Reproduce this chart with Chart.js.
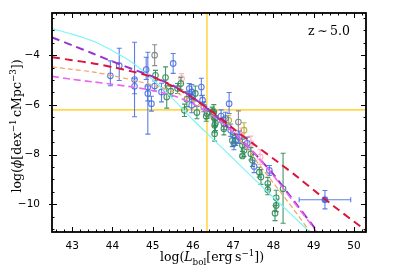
<!DOCTYPE html>
<html>
<head>
<meta charset="utf-8">
<script src="https://cdn.jsdelivr.net/npm/chart.js@4"></script>
<style>
  html, body { margin: 0; padding: 0; background: #fff; }
  #wrap { width: 399px; height: 266px; }
</style>
</head>
<body>
<div id="wrap"><canvas id="lfChart" width="399" height="266"></canvas></div>
<script>
const ctxLf = document.getElementById('lfChart');

const xRange = [42.5, 50.3];
const yRange = [-11.12, -2.3];
const xTicks = [43, 44, 45, 46, 47, 48, 49, 50];
const yTicks = [-10, -8, -6, -4];
const refX = 46.35;
const refY = -6.2;

// model curves
const cyanX = [42.5, 43, 43.5, 44, 44.5, 45, 45.5, 46, 46.5, 47, 47.5, 48, 48.5, 48.9];
const cyanY = [-2.93, -3.15, -3.42, -3.82, -4.3, -4.98, -5.75, -6.6, -7.38, -8.16, -8.95, -9.73, -10.5, -11.12];
const purpleX = [42.5, 43, 43.5, 44, 44.5, 45, 45.5, 46, 46.5, 47, 47.5, 48, 48.5, 49, 49.1];
const purpleY = [-3.28, -3.6, -3.92, -4.25, -4.56, -4.86, -5.22, -5.7, -6.35, -7.1, -7.9, -8.8, -9.85, -10.9, -11.12];
const redX = [42.5, 43, 43.5, 44, 44.5, 45, 45.5, 46, 46.5, 47, 47.5, 48, 48.5, 49, 49.5, 50, 50.3];
const redY = [-4.08, -4.2, -4.32, -4.48, -4.66, -4.88, -5.25, -5.72, -6.3, -6.95, -7.57, -8.17, -8.78, -9.43, -10.08, -10.7, -11.06];
const orangeX = [42.5, 43, 43.5, 44, 44.5, 45, 45.5, 46, 46.5, 47, 47.5, 48, 48.5, 48.9];
const orangeY = [-4.47, -4.57, -4.67, -4.82, -5.0, -5.2, -5.45, -5.85, -6.35, -7.1, -8.1, -9.15, -10.2, -11.1];
const violetX = [42.5, 43, 43.5, 44, 44.5, 45, 45.5, 46, 46.5, 47, 47.5, 48, 48.5, 49, 49.07];
const violetY = [-4.85, -4.97, -5.07, -5.17, -5.28, -5.42, -5.62, -5.95, -6.45, -7.1, -7.9, -8.85, -9.9, -10.95, -11.12];

// observed points
const blueX = [43.95, 44.17, 44.55, 44.55, 44.84, 44.88, 44.88, 44.97, 45.05, 45.22, 45.51, 45.91, 45.97, 45.97, 45.97, 46.21, 46.24, 46.27, 46.7, 46.81, 46.9, 46.94, 47.02, 47.15, 47.35, 47.52, 47.9];
const blueY = [-4.83, -4.42, -4.98, -5.25, -4.58, -5.28, -5.54, -5.95, -5.24, -5.48, -4.33, -5.34, -5.48, -5.68, -6.02, -5.28, -5.81, -6.08, -6.45, -6.55, -5.95, -7.02, -7.56, -7.3, -7.55, -8.48, -8.64];
const blueLo = [0.4, 0.6, 1.5, 0.3, 0.4, 1.9, 0.3, 0.3, 0.2, 0.4, 0.4, 0.2, 0.3, 0.2, 0.3, 0.35, 0.2, 0.2, 0.25, 0.25, 0.4, 0.25, 0.25, 0.25, 0.25, 0.25, 0.2];
const blueHi = [0.6, 0.7, 1.5, 0.3, 0.5, 1.4, 0.3, 0.3, 0.2, 0.35, 0.4, 0.2, 0.3, 0.2, 0.3, 0.35, 0.2, 0.2, 0.25, 0.25, 0.45, 0.25, 0.25, 0.25, 0.25, 0.25, 0.2];
const brightX = [49.28];
const brightY = [-9.82];
const brightErrY = [0.37];
const brightErrX = [0.64];

const greenX = [45.07, 45.32, 45.35, 45.45, 45.62, 45.7, 45.85, 45.79, 46.06, 46.1, 46.35, 46.33, 46.48, 46.52, 46.54, 46.54, 46.56, 46.54, 46.77, 46.77, 46.98, 47.06, 47.23, 47.27, 47.23, 47.44, 47.48, 47.65, 47.69, 47.86, 47.86, 48.07, 48.07, 48.04, 48.24];
const greenY = [-4.81, -4.9, -5.68, -5.45, -5.34, -5.14, -5.77, -6.22, -5.54, -6.31, -6.35, -6.46, -6.29, -6.29, -6.55, -6.82, -6.73, -7.16, -6.75, -6.96, -7.43, -7.43, -7.63, -7.83, -8.06, -7.97, -8.23, -8.71, -8.9, -9.17, -9.42, -9.74, -10.05, -10.36, -9.38];
const greenLo = [0.2, 0.45, 0.45, 0.2, 0.2, 0.25, 0.3, 0.25, 0.3, 0.25, 0.2, 0.2, 0.2, 0.3, 0.3, 0.3, 0.3, 0.3, 0.25, 0.25, 0.25, 0.2, 0.25, 0.25, 0.05, 0.25, 0.25, 0.2, 0.3, 0.25, 0.2, 0.3, 0.25, 0.3, 1.39];
const greenHi = [0.2, 0.43, 0.45, 0.2, 0.2, 0.25, 0.3, 0.25, 0.3, 0.25, 0.2, 0.2, 0.2, 0.3, 0.3, 0.3, 0.3, 0.3, 0.25, 0.25, 0.25, 0.2, 0.25, 0.25, 0.05, 0.25, 0.25, 0.2, 0.3, 0.25, 0.2, 0.3, 0.25, 0.3, 1.43];

const grayX = [45.05, 47.13];
const grayY = [-4.0, -6.69];
const grayErr = [0.42, 0.45];
const pinkX = [45.72, 47.19, 47.44, 47.67];
const pinkY = [-4.94, -7.23, -7.56, -8.1];
const pinkErr = [0.2, 0.3, 0.3, 0.3];
const oliveX = [46.5, 46.89, 47.27];
const oliveY = [-6.35, -6.62, -7.02];
const oliveErr = [0.2, 0.2, 0.3];

function pts(xs, ys) {
  return xs.map((x, i) => ({ x: x, y: ys[i] }));
}

function modelLine(xs, ys, color, width, dash) {
  return {
    type: 'line',
    data: pts(xs, ys),
    borderColor: color,
    borderWidth: width,
    borderDash: dash,
    pointRadius: 0,
    fill: false,
    tension: 0.2
  };
}

function obsSet(xs, ys, lo, hi, color, fillColor) {
  return {
    type: 'scatter',
    data: pts(xs, ys),
    borderColor: color,
    backgroundColor: fillColor || 'rgba(0,0,0,0)',
    pointRadius: 2.8,
    pointBorderWidth: 1.1,
    errLo: lo,
    errHi: hi
  };
}

// error bars under each scatter set
const errorBars = {
  id: 'errorBars',
  beforeDatasetDraw(chart, args) {
    const ds = chart.data.datasets[args.index];
    if (!ds.errLo) return;
    const sx = chart.scales.x, sy = chart.scales.y;
    const c = chart.ctx;
    c.save();
    c.strokeStyle = ds.borderColor;
    c.lineWidth = 1.1;
    ds.data.forEach((p, i) => {
      const px = sx.getPixelForValue(p.x);
      const top = sy.getPixelForValue(p.y + ds.errHi[i]);
      const bot = sy.getPixelForValue(p.y - ds.errLo[i]);
      c.beginPath();
      c.moveTo(px, top); c.lineTo(px, bot);
      c.moveTo(px - 2.5, top); c.lineTo(px + 2.5, top);
      c.moveTo(px - 2.5, bot); c.lineTo(px + 2.5, bot);
      if (ds.errX) {
        const py = sy.getPixelForValue(p.y);
        const l = sx.getPixelForValue(p.x - ds.errX[i]);
        const r = sx.getPixelForValue(p.x + ds.errX[i]);
        c.moveTo(l, py); c.lineTo(r, py);
        c.moveTo(l, py - 2.5); c.lineTo(l, py + 2.5);
        c.moveTo(r, py - 2.5); c.lineTo(r, py + 2.5);
      }
      c.stroke();
    });
    c.restore();
  }
};

// frame with inward ticks on all sides
const frameTicks = {
  id: 'frameTicks',
  afterDraw(chart) {
    const a = chart.chartArea;
    const sx = chart.scales.x, sy = chart.scales.y;
    const c = chart.ctx;
    c.save();
    c.strokeStyle = '#000';
    c.lineWidth = 1;
    c.beginPath();
    for (let v = 42.6; v < xRange[1]; v += 0.2) {
      const px = Math.round(sx.getPixelForValue(v)) + 0.5;
      const major = Math.abs(v - Math.round(v)) < 0.01;
      const len = major ? 5 : 2.5;
      c.moveTo(px, a.bottom); c.lineTo(px, a.bottom - len);
      c.moveTo(px, a.top); c.lineTo(px, a.top + len);
    }
    for (let v = -11; v < yRange[1]; v += 0.5) {
      const py = Math.round(sy.getPixelForValue(v)) + 0.5;
      const major = Math.abs(v / 2 - Math.round(v / 2)) < 0.01;
      const len = major ? 5 : 2.5;
      c.moveTo(a.left, py); c.lineTo(a.left + len, py);
      c.moveTo(a.right, py); c.lineTo(a.right - len, py);
      if (major) { c.moveTo(a.left, py); c.lineTo(a.left - 3, py); }
    }
    c.stroke();
    c.lineWidth = 1.8;
    c.strokeRect(a.left, a.top, a.right - a.left, a.bottom - a.top);
    c.restore();
  }
};

function drawRich(c, parts, x, y, size) {
  const fam = '"DejaVu Serif", serif';
  let total = 0;
  parts.forEach(p => {
    const s = p.sub || p.sup ? size * 0.7 : size;
    c.font = (p.it ? 'italic ' : '') + s + 'px ' + fam;
    p.w = c.measureText(p.t).width;
    total += p.w;
  });
  let cx = x - total / 2;
  parts.forEach(p => {
    const s = p.sub || p.sup ? size * 0.7 : size;
    c.font = (p.it ? 'italic ' : '') + s + 'px ' + fam;
    const dy = p.sub ? size * 0.3 : p.sup ? -size * 0.4 : 0;
    c.fillText(p.t, cx, y + dy);
    cx += p.w;
  });
}

const axisTitles = {
  id: 'axisTitles',
  afterDraw(chart) {
    const c = chart.ctx;
    c.save();
    c.fillStyle = '#000';
    c.textBaseline = 'alphabetic';
    c.textAlign = 'left';
    drawRich(c, [
      { t: 'log(' }, { t: 'L', it: true }, { t: 'bol', sub: true },
      { t: '[erg\u2009s' }, { t: '\u22121', sup: true }, { t: '])' }
    ], 212, 261, 12.5);
    c.translate(21, 126);
    c.rotate(-Math.PI / 2);
    drawRich(c, [
      { t: 'log(' }, { t: '\u03d5', it: true }, { t: '[dex' }, { t: '\u22121', sup: true },
      { t: '\u2009cMpc' }, { t: '\u22123', sup: true }, { t: '])' }
    ], 0, 0, 12.5);
    c.restore();
    c.save();
    c.fillStyle = '#000';
    c.font = '12.5px "DejaVu Serif", serif';
    c.textAlign = 'right';
    c.fillText('z\u2009\u223c\u20095.0', 350, 35);
    c.restore();
  }
};

const lfChart = new Chart(ctxLf, {
  data: {
    datasets: [
      modelLine(redX, redY, '#dc143c', 2, [8, 5]),
      modelLine(violetX, violetY, '#ee66ee', 1.6, [7, 4]),
      modelLine(purpleX, purpleY, '#9932cc', 2, [8, 5]),
      modelLine(orangeX, orangeY, '#f4a460', 1.2, [5, 3]),
      modelLine(cyanX, cyanY, '#7ff5f5', 1.2, []),
      Object.assign(obsSet(brightX, brightY, brightErrY, brightErrY, 'rgba(65,105,225,0.85)', 'rgba(65,105,225,0.85)'), { errX: brightErrX }),
      obsSet(blueX, blueY, blueLo, blueHi, 'rgba(65,105,225,0.85)'),
      obsSet(greenX, greenY, greenLo, greenHi, 'rgba(46,139,87,0.9)'),
      obsSet(pinkX, pinkY, pinkErr, pinkErr, 'rgba(255,170,185,0.9)'),
      obsSet(oliveX, oliveY, oliveErr, oliveErr, 'rgba(180,165,40,0.9)'),
      obsSet(grayX, grayY, grayErr, grayErr, 'rgba(128,128,128,0.9)'),
      { type: 'line', data: [{ x: xRange[0], y: refY }, { x: xRange[1], y: refY }], borderColor: '#ffd84a', borderWidth: 1.6, pointRadius: 0 },
      { type: 'line', data: [{ x: refX, y: yRange[0] }, { x: refX, y: yRange[1] }], borderColor: '#ffd84a', borderWidth: 1.6, pointRadius: 0 }
    ]
  },
  options: {
    responsive: false,
    animation: false,
    devicePixelRatio: 1,
    layout: { padding: { top: 13, right: 33, left: 0, bottom: 0 } },
    plugins: {
      legend: { display: false },
      tooltip: { enabled: false }
    },
    scales: {
      x: {
        type: 'linear',
        min: xRange[0],
        max: xRange[1],
        grid: { display: false },
        border: { display: false },
        afterBuildTicks: s => { s.ticks = xTicks.map(v => ({ value: v })); },
        afterFit: s => { s.height = 34; },
        ticks: {
          padding: 0,
          color: '#000',
          font: { family: '"DejaVu Sans", sans-serif', size: 10.5 },
          callback: v => String(v)
        }
      },
      y: {
        type: 'linear',
        min: yRange[0],
        max: yRange[1],
        grid: { display: false },
        border: { display: false },
        afterBuildTicks: s => { s.ticks = yTicks.map(v => ({ value: v })); },
        afterFit: s => { s.width = 52; },
        ticks: {
          padding: 4,
          color: '#000',
          font: { family: '"DejaVu Sans", sans-serif', size: 10.5 },
          callback: v => (v < 0 ? '\u2212' + Math.abs(v) : String(v))
        }
      }
    }
  },
  plugins: [errorBars, frameTicks, axisTitles]
});
</script>
</body>
</html>
